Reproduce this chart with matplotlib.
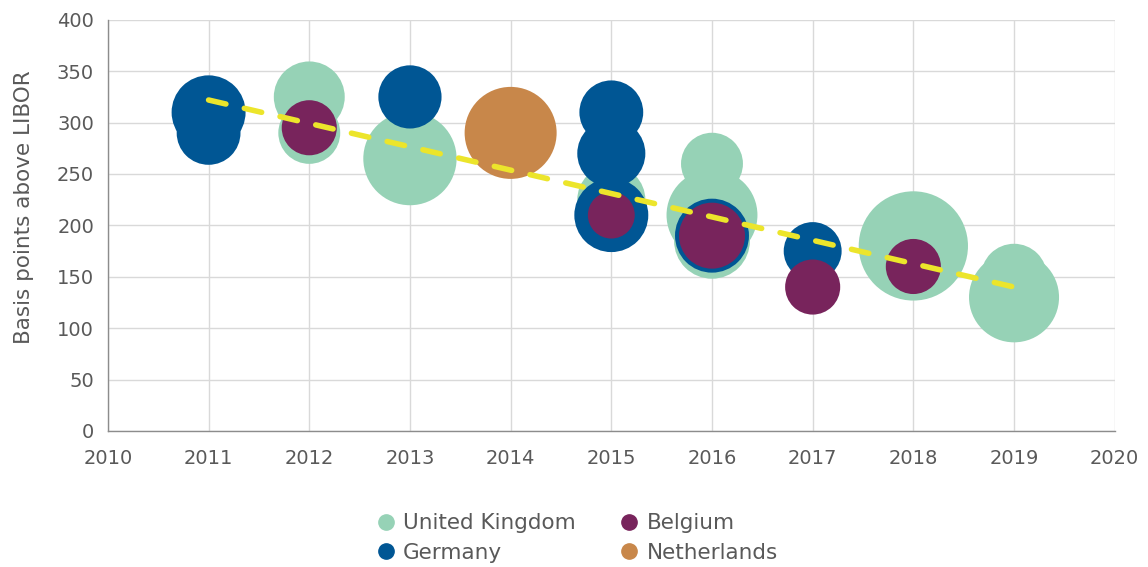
import matplotlib.pyplot as plt
from matplotlib.lines import Line2D

# bubble data: year, basis points above LIBOR, relative bubble size (area units)
uk_year = [2012, 2012, 2013, 2015, 2016, 2016, 2016, 2018, 2019, 2019]
uk_bps = [325, 290, 265, 225, 260, 210, 185, 180, 130, 150]
uk_size = [126, 96, 218, 116, 96, 207, 144, 299, 203, 109]

de_year = [2011, 2011, 2013, 2015, 2015, 2015, 2016, 2017]
de_bps = [310, 290, 325, 310, 270, 210, 190, 175]
de_size = [137, 102, 100, 102, 116, 137, 137, 84]

be_year = [2012, 2015, 2016, 2017, 2018]
be_bps = [295, 210, 190, 140, 160]
be_size = [76, 55, 109, 76, 76]

nl_year = [2014]
nl_bps = [290]
nl_size = [212]

trend_year = [2011, 2019]
trend_bps = [322, 140]

COLORS = {
    'United Kingdom': '#96d2b6',
    'Germany': '#005694',
    'Belgium': '#78245c',
    'Netherlands': '#c8874a',
}
TEXT = '#595959'
SCALE = 20.7  # area units -> points^2

plt.rcParams['font.family'] = ['DejaVu Sans']

fig = plt.figure(figsize=(11.48, 5.67), dpi=100)
ax = fig.add_axes([0.094, 0.240, 0.877, 0.725])

series = [
    ('United Kingdom', uk_year, uk_bps, uk_size),
    ('Germany', de_year, de_bps, de_size),
    ('Belgium', be_year, be_bps, be_size),
    ('Netherlands', nl_year, nl_bps, nl_size),
]
z = 3
for name, xs, ys, ss in series:
    # larger bubbles go underneath within each series
    order = sorted(range(len(xs)), key=lambda i: -ss[i])
    for i in order:
        ax.scatter(xs[i], ys[i], s=ss[i] * SCALE, c=COLORS[name],
                   edgecolors='none', zorder=z)
        z += 0.01
    z += 1

ax.plot(trend_year, trend_bps, color='#ece52b', lw=4, ls=(0, (3.2, 3.4)),
        dash_capstyle='round', zorder=20)

ax.set_xlim(2010, 2020)
ax.set_ylim(0, 400)
ax.set_xticks(range(2010, 2021))
ax.set_yticks(range(0, 401, 50))
ax.grid(True, color='#d9d9d9', lw=1)
ax.set_axisbelow(True)
ax.tick_params(length=0, labelsize=14, labelcolor=TEXT)
ax.tick_params(axis='x', pad=13)
ax.tick_params(axis='y', pad=10)
for side in ['top', 'right']:
    ax.spines[side].set_visible(False)
for side in ['left', 'bottom']:
    ax.spines[side].set_color('#8c8c8c')
    ax.spines[side].set_linewidth(1)
ax.set_ylabel('Basis points above LIBOR', fontsize=15.5, color=TEXT)
ax.yaxis.set_label_coords(-0.073, 0.545)

names = ['United Kingdom', 'Germany', 'Belgium', 'Netherlands']
handles = [Line2D([], [], marker='o', ls='', markersize=11, markerfacecolor=COLORS[n],
                  markeredgecolor=COLORS[n]) for n in names]
leg = fig.legend(handles, names, ncol=2, loc='lower center',
                 bbox_to_anchor=(0.502, -0.027), frameon=False, fontsize=15.5,
                 handletextpad=0.3, columnspacing=2.0, labelspacing=0.45,
                 handlelength=1.0)
for t in leg.get_texts():
    t.set_color(TEXT)

fig.savefig('out.png', dpi=100)
